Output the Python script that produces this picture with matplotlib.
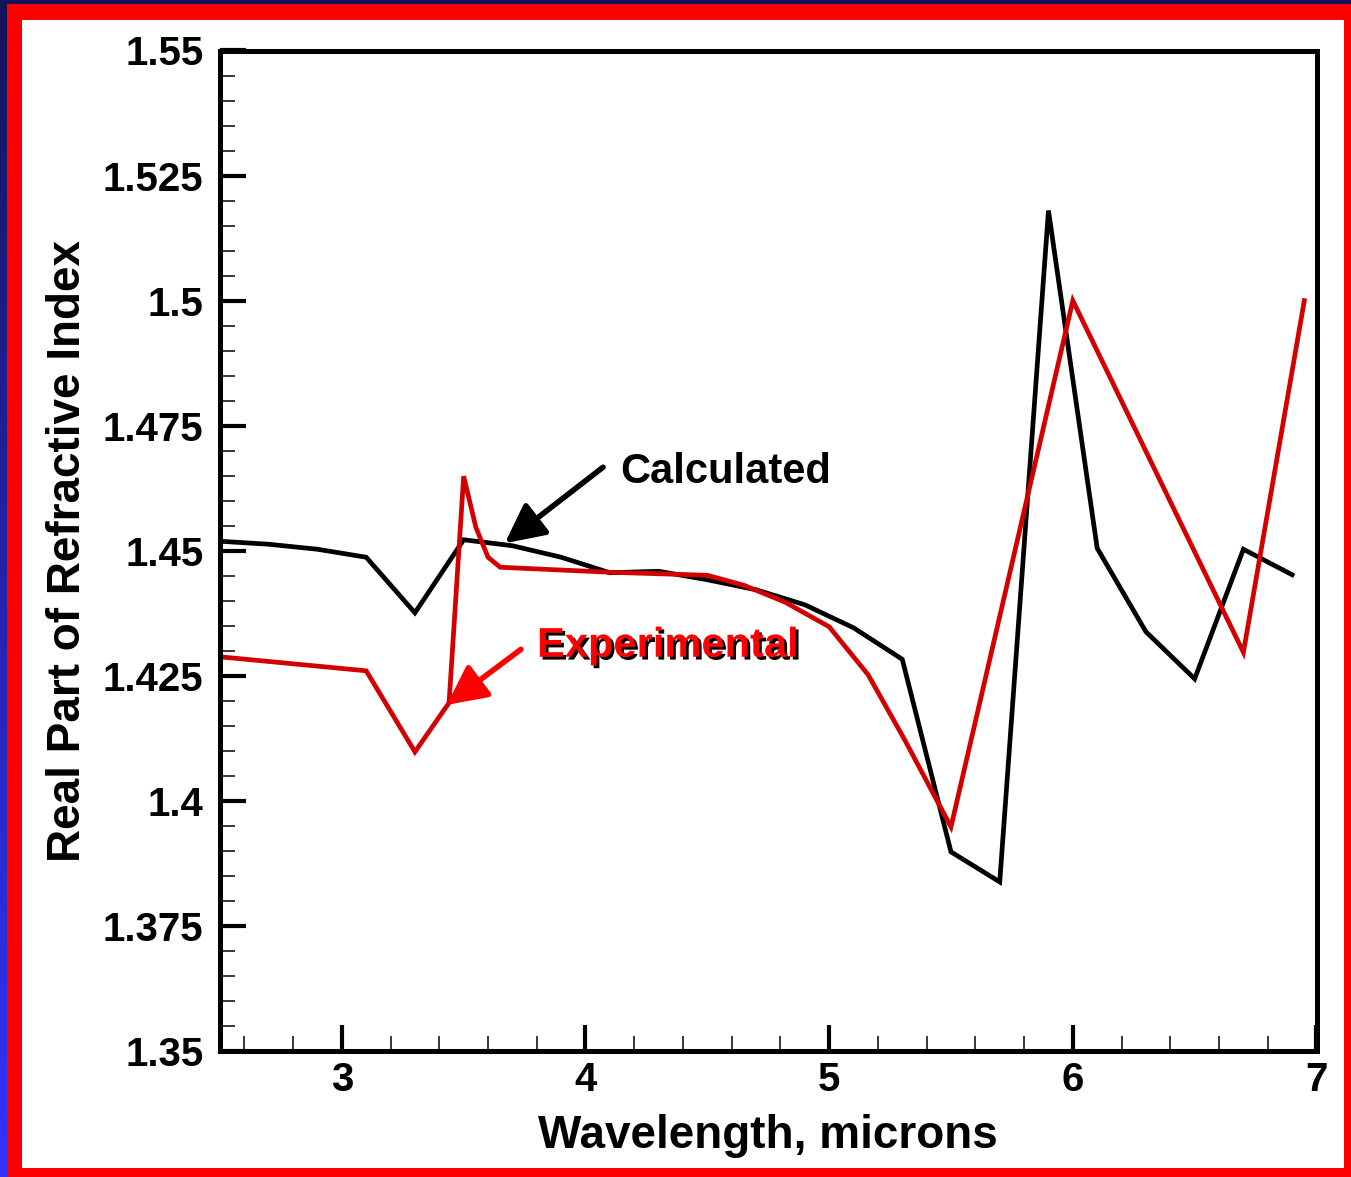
import numpy as np
import matplotlib
matplotlib.use('Agg')
import matplotlib.pyplot as plt
import matplotlib.patheffects as pe
from matplotlib.patches import Rectangle
from matplotlib.ticker import MultipleLocator, FormatStrFormatter

plt.rcParams['font.family'] = ['Liberation Sans', 'DejaVu Sans']
plt.rcParams['font.weight'] = 'bold'

# Calculated (black) curve
calc_x = [2.5, 2.7, 2.9, 3.1, 3.3, 3.5, 3.7, 3.9, 4.1, 4.3, 4.5, 4.7,
          4.9, 5.1, 5.3, 5.5, 5.7, 5.9, 6.1, 6.3, 6.5, 6.7, 6.9]
calc_y = [1.4519, 1.4513, 1.4503, 1.4487, 1.4376, 1.4522, 1.4510, 1.4487,
          1.4456, 1.4459, 1.4442, 1.4422, 1.4392, 1.4346, 1.4283, 1.3898,
          1.3838, 1.5180, 1.4505, 1.4338, 1.4244, 1.4503, 1.4452]

# Experimental (red) curve
exp_x = [2.5, 3.1, 3.3, 3.44, 3.5, 3.55, 3.6, 3.65, 4.1, 4.5, 4.65, 4.82,
         5.0, 5.16, 5.31, 5.5, 6.0, 6.7, 6.95]
exp_y = [1.4288, 1.4260, 1.4098, 1.4196, 1.4649, 1.4547, 1.4487, 1.4467,
         1.4457, 1.4451, 1.4431, 1.4397, 1.4348, 1.4252, 1.4122, 1.3948,
         1.5000, 1.4297, 1.5000]

W, H = 1351, 1177
fig = plt.figure(figsize=(W / 100, H / 100), dpi=100)

# slide-style frame: blue gradient behind a red border
bg = fig.add_axes([0, 0, 1, 1], zorder=-10)
grad = np.linspace(0, 1, 256)[:, None]
cmap = matplotlib.colors.LinearSegmentedColormap.from_list('bg', ['#14145a', '#3333ff'])
bg.imshow(grad, aspect='auto', cmap=cmap, extent=[0, 1, 0, 1], origin='upper')
bg.add_patch(Rectangle((7 / W, 0), 1, 1 - 4 / H, color='#ff0000', lw=0))
bg.add_patch(Rectangle((22 / W, 9 / H), (1344 - 22) / W, (1168 - 20) / H,
                       color='white', lw=0))
bg.set_xlim(0, 1)
bg.set_ylim(0, 1)
bg.axis('off')

ax = fig.add_axes([220 / W, 1 - 1051 / H, (1316.5 - 220) / W, (1051 - 50.5) / H])

ax.plot(calc_x, calc_y, color='black', lw=3.4, solid_joinstyle='miter')
ax.plot(exp_x, exp_y, color='#d40000', lw=3.4, solid_joinstyle='miter')

ax.set_xlim(2.5, 7)
ax.set_ylim(1.35, 1.55)
ax.xaxis.set_major_locator(MultipleLocator(1))
ax.xaxis.set_minor_locator(MultipleLocator(0.2))
ax.yaxis.set_major_locator(MultipleLocator(0.025))
ax.yaxis.set_minor_locator(MultipleLocator(0.005))
ax.yaxis.set_major_formatter(FormatStrFormatter('%g'))
ax.xaxis.set_major_formatter(FormatStrFormatter('%g'))

for s in ax.spines.values():
    s.set_linewidth(3.6)
ax.tick_params(which='major', direction='in', length=19, width=3, labelsize=29,
               pad=7)
ax.tick_params(which='minor', direction='in', length=11, width=1.1)
ax.tick_params(axis='y', which='major', pad=12)

ax.set_xlabel('Wavelength, microns', fontsize=33, fontweight='bold')
ax.set_ylabel('Real Part of Refractive Index', fontsize=33, fontweight='bold')
ax.xaxis.label.set_va('center')
ax.yaxis.label.set_va('center')
ax.xaxis.set_label_coords(0.5, -0.085)
ax.yaxis.set_label_coords(-0.139, 0.5)

# annotations
ax.annotate('', xy=(3.669, 1.4515), xytext=(4.072, 1.4667),
            arrowprops=dict(arrowstyle='-|>,head_length=0.8,head_width=0.4',
                            lw=4, color='black', mutation_scale=30,
                            shrinkA=0, shrinkB=0))
ax.text(4.141, 1.4635, 'Calculated', fontsize=30, fontweight='bold',
        ha='left', va='baseline', color='black')

ax.annotate('', xy=(3.431, 1.4192), xytext=(3.735, 1.4303),
            arrowprops=dict(arrowstyle='-|>,head_length=0.8,head_width=0.4',
                            lw=4, color='#ff0000', mutation_scale=30,
                            shrinkA=0, shrinkB=0))
ax.text(3.801, 1.4288, 'Experimental', fontsize=30, fontweight='bold',
        ha='left', va='baseline', color='#ff0000',
        path_effects=[pe.SimplePatchShadow(offset=(2, -2), shadow_rgbFace='black',
                                           alpha=1), pe.Normal()])

fig.savefig('out.png', dpi=100)
